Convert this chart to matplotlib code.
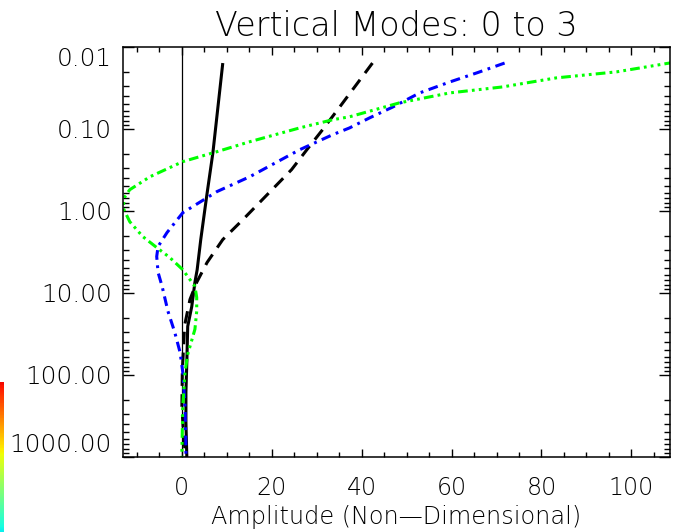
import numpy as np
import matplotlib.pyplot as plt
from matplotlib.ticker import FixedLocator, LogLocator, NullFormatter, MultipleLocator

# Mode 0 (preto sólido): amplitude x pressão
mode0_amp = [9.1, 8.2, 6.9, 5.5, 4.2, 3.4, 2.9, 2.2, 1.3, 1.1, 0.9, 0.9, 1.1]
mode0_lev = [0.0157, 0.044, 0.195, 0.67, 2.23, 5.2, 7.4, 14.6, 25.5, 70, 162, 375, 1000]

# Mode 1 (preto tracejado)
mode1_amp = [42.4, 35.1, 31.3, 27.8, 24.4, 13.6, 9.1, 5.6, 3.3, 1.8, 0.6, 0.1, 0.0, 0.3, 0.8]
mode1_lev = [0.0157, 0.054, 0.102, 0.179, 0.313, 1.27, 2.23, 4.25, 7.4, 12, 25, 90, 240, 450, 1000]

# Mode 2 (azul traço-ponto)
mode2_amp = [71.8, 65.6, 59.6, 52.9, 46.9, 41.8, 37.3, 33.6, 26.2, 15.1, 7.8, 0.2,
             -3.3, -5.3, -5.6, -5.3, -4.4, -3.1, -1.6, -0.4, 0.2, 0.7, 0.9, 0.9]
mode2_lev = [0.0157, 0.0207, 0.0267, 0.0363, 0.054, 0.073, 0.097, 0.117, 0.179, 0.382, 0.58, 1.05,
             1.83, 2.71, 3.59, 5.6, 8.3, 16.7, 30, 53, 92, 240, 734, 1000]

# Mode 3 (verde traço-ponto-ponto)
mode3_amp = [110.0, 96.7, 83.3, 71.3, 59.6, 48.4, 37.3, 33.6, 26.2, 15.1, 7.8, 0.2, -7.1,
             -11.6, -12.7, -13.1, -11.6, -8.7, -5.6, -2.7, 0.2, 1.3, 2.9, 3.3, 3.3, 2.9,
             1.3, 0.7, 0.2, 0.0, 0.0]
mode3_lev = [0.0152, 0.0201, 0.0238, 0.0307, 0.0363, 0.048, 0.071, 0.077, 0.097, 0.143, 0.189,
             0.25, 0.382, 0.55, 0.67, 0.91, 1.35, 2.05, 2.79, 3.69, 5.2, 6.3, 8.3, 11.3, 16.7,
             27.7, 56, 92, 240, 871, 1000]

ytick_vals = [0.01, 0.1, 1, 10, 100, 1000]
ytick_labels = ['0.01', '0.10', '1.00', '10.00', '100.00', '1000.00']
xtick_vals = [0, 20, 40, 60, 80, 100]

plt.rcParams['font.family'] = ['DejaVu Sans']
plt.rcParams['font.weight'] = 'light'
plt.rcParams['axes.titleweight'] = 'light'
plt.rcParams['axes.labelweight'] = 'light'
plt.rcParams['lines.scale_dashes'] = False

fig = plt.figure(figsize=(6.73, 5.32), dpi=100)
ax = fig.add_axes([123 / 673, 75 / 532, 547 / 673, 410 / 532])

ax.axvline(0, color='black', linewidth=0.9)
ax.plot(mode0_amp, mode0_lev, color='black', linewidth=2.2, solid_capstyle='butt')
ax.plot(mode1_amp, mode1_lev, color='black', linewidth=2.2, dashes=(9, 6))
ax.plot(mode2_amp, mode2_lev, color='#0000ff', linewidth=2.2, dashes=(7, 4, 2, 4))
ax.plot(mode3_amp, mode3_lev, color='#00ff00', linewidth=2.2, dashes=(7, 3, 2, 3, 2, 3, 2, 3))

ax.set_yscale('log')
ax.set_ylim(1000, 0.01)
ax.set_xlim(-13.1, 108.6)

ax.yaxis.set_major_locator(FixedLocator(ytick_vals))
ax.set_yticklabels(ytick_labels)
ax.yaxis.set_minor_locator(LogLocator(base=10, subs=np.arange(2, 10)))
ax.yaxis.set_minor_formatter(NullFormatter())
ax.set_xticks(xtick_vals)
ax.xaxis.set_minor_locator(MultipleLocator(5))

ax.tick_params(which='both', direction='in', top=True, right=True, width=1.0)
ax.tick_params(axis='x', which='major', length=6, pad=14, labelsize=17)
ax.tick_params(axis='x', which='minor', length=3.5)
ax.tick_params(axis='y', which='major', length=8, pad=8, labelsize=17.8)
ax.tick_params(axis='y', which='minor', length=4.5)
labels = ax.get_yticklabels()
labels[0].set_va('top')
labels[-1].set_va('bottom')
for sp in ax.spines.values():
    sp.set_linewidth(1.1)

ax.set_title('Vertical Modes: 0 to 3', fontsize=24, pad=8)
ax.set_xlabel('Amplitude (Non\u2014Dimensional)', fontsize=17.3, labelpad=3)

# barra de cores cortada no canto esquerdo
cax = fig.add_axes([0, 0, 4 / 673, 150 / 532])
grad = np.linspace(0.9, 0.36, 100).reshape(-1, 1)
cax.imshow(grad, aspect='auto', cmap='jet', vmin=0, vmax=1)
cax.set_axis_off()

plt.savefig('out.png', dpi=100)
